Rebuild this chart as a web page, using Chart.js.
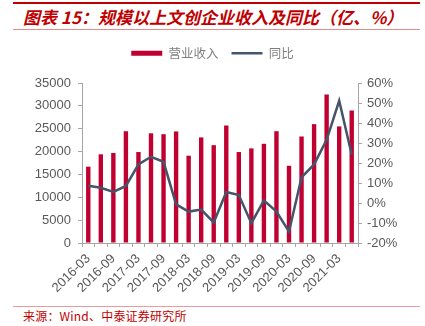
<!DOCTYPE html>
<html>
<head>
<meta charset="utf-8">
<script src="https://cdn.jsdelivr.net/npm/chart.js@4.4.0/dist/chart.umd.min.js"></script>
<style>
  body { margin: 0; background: #fff; width: 425px; height: 326px; overflow: hidden; position: relative; font-family: "Noto Sans CJK SC", sans-serif; }
  #topLine { position: absolute; left: 13px; top: 2px; width: 407px; height: 2px; background: #C00000; }
  #title { position: absolute; left: 23px; top: 4px; font-size: 17px; font-weight: bold; font-style: italic; color: #C00000; white-space: nowrap; }
  #titleLine { position: absolute; left: 13px; top: 29px; width: 407px; height: 1px; background: #E48C8C; }
  #chartBox { position: absolute; left: 0; top: 34px; width: 425px; height: 268px; }
  #srcLine { position: absolute; left: 13px; top: 306px; width: 407px; height: 1px; background: #EE9A9A; }
  #source { position: absolute; left: 23px; top: 307px; font-size: 12px; letter-spacing: 0.2px; color: #C00000; white-space: nowrap; }
</style>
</head>
<body>
<div id="topLine"></div>
<div id="title">图表 15：规模以上文创企业收入及同比（亿、%）</div>
<div id="titleLine"></div>
<div id="chartBox"><canvas id="grafico"></canvas></div>
<div id="srcLine"></div>
<div id="source">来源：Wind、中泰证券研究所</div>
<script>
// Dados do gráfico
const trimestres = [
  '2016-03', '2016-06', '2016-09', '2016-12',
  '2017-03', '2017-06', '2017-09', '2017-12',
  '2018-03', '2018-06', '2018-09', '2018-12',
  '2019-03', '2019-06', '2019-09', '2019-12',
  '2020-03', '2020-06', '2020-09', '2020-12',
  '2021-03', '2021-06'
];
const receita = [
  16700, 19400, 19700, 24450,
  19900, 24000, 23800, 24400,
  19100, 23100, 21400, 25700,
  19900, 20700, 21700, 24450,
  16900, 23300, 26000, 32500,
  25500, 29000
];
const crescimento = [
  8.6, 7.6, 5.5, 8.5,
  19.3, 23.1, 20.6, -0.7,
  -4.3, -3.3, -9.7, 5.5,
  4.0, -10.1, 1.3, -4.3,
  -14.3, 12.8, 19.3, 31.6,
  51.1, 24.1
];
const ticksEsquerda = [0, 5000, 10000, 15000, 20000, 25000, 30000, 35000];
const ticksDireita = [-20, -10, 0, 10, 20, 30, 40, 50, 60];

const corBarra = '#C00030';
const corLinha = '#44546A';
const corTexto = '#595959';
const corEixo = '#A6A6A6';
const fonteNumeros = '"Liberation Sans", Arial, sans-serif';

// Forçar a altura da legenda
const alturaLegenda = {
  id: 'alturaLegenda',
  beforeInit(chart) {
    const fitOriginal = chart.legend.fit;
    chart.legend.fit = function () {
      fitOriginal.call(this);
      this.height = 49;
    };
  }
};

const ctx = document.getElementById('grafico').getContext('2d');

new Chart(ctx, {
  type: 'bar',
  data: {
    labels: trimestres,
    datasets: [{
      type: 'bar',
      label: '营业收入',
      data: receita,
      backgroundColor: corBarra,
      borderWidth: 0,
      barPercentage: 0.35,
      categoryPercentage: 1,
      yAxisID: 'y',
      order: 2
    }, {
      type: 'line',
      label: '同比',
      data: crescimento,
      borderColor: corLinha,
      backgroundColor: corLinha,
      borderWidth: 2.5,
      pointRadius: 0,
      tension: 0,
      yAxisID: 'y1',
      order: 1
    }]
  },
  plugins: [alturaLegenda],
  options: {
    responsive: true,
    maintainAspectRatio: false,
    animation: false,
    layout: { padding: 0 },
    plugins: {
      tooltip: { enabled: false },
      legend: {
        position: 'top',
        labels: {
          usePointStyle: true,
          pointStyleWidth: 31,
          boxHeight: 5,
          padding: 13,
          color: '#7F7F7F',
          font: { family: '"Noto Sans CJK SC", sans-serif', size: 12.5 },
          sort: (a, b) => a.datasetIndex - b.datasetIndex,
          generateLabels: (chart) => {
            const itens = Chart.defaults.plugins.legend.labels.generateLabels(chart);
            itens.forEach(item => {
              if (item.datasetIndex === 0) {
                item.pointStyle = 'rect';
                item.fillStyle = corBarra;
                item.strokeStyle = corBarra;
                item.lineWidth = 0;
              } else {
                item.pointStyle = 'line';
                item.strokeStyle = corLinha;
                item.lineWidth = 2.5;
              }
            });
            return itens;
          }
        }
      }
    },
    scales: {
      x: {
        offset: true,
        grid: {
          display: true,
          drawOnChartArea: false,
          offset: true,
          color: corEixo,
          tickLength: 4,
          tickColor: corEixo
        },
        border: { color: corEixo, width: 1 },
        ticks: {
          autoSkip: false,
          maxRotation: 45,
          minRotation: 45,
          color: corTexto,
          padding: 4,
          font: { family: fonteNumeros, size: 13 },
          callback: function (valor, indice) {
            return indice % 2 === 0 ? this.getLabelForValue(valor) : '';
          }
        },
        afterFit: (eixo) => { eixo.height = 59; }
      },
      y: {
        position: 'left',
        min: 0,
        max: 35000,
        grid: {
          drawOnChartArea: false,
          tickLength: 4,
          tickColor: corEixo
        },
        border: { color: corEixo, width: 1 },
        afterBuildTicks: (eixo) => { eixo.ticks = ticksEsquerda.map(v => ({ value: v })); },
        ticks: {
          color: corTexto,
          padding: 7,
          font: { family: fonteNumeros, size: 13 },
          callback: (valor) => String(valor)
        },
        afterFit: (eixo) => { eixo.width = 82; }
      },
      y1: {
        position: 'right',
        min: -20,
        max: 60,
        grid: {
          drawOnChartArea: false,
          tickLength: 4,
          tickColor: corEixo
        },
        border: { color: corEixo, width: 1 },
        afterBuildTicks: (eixo) => { eixo.ticks = ticksDireita.map(v => ({ value: v })); },
        ticks: {
          color: corTexto,
          padding: 5,
          font: { family: fonteNumeros, size: 13 },
          callback: (valor) => valor + '%'
        },
        afterFit: (eixo) => { eixo.width = 67; }
      }
    }
  }
});
</script>
</body>
</html>
